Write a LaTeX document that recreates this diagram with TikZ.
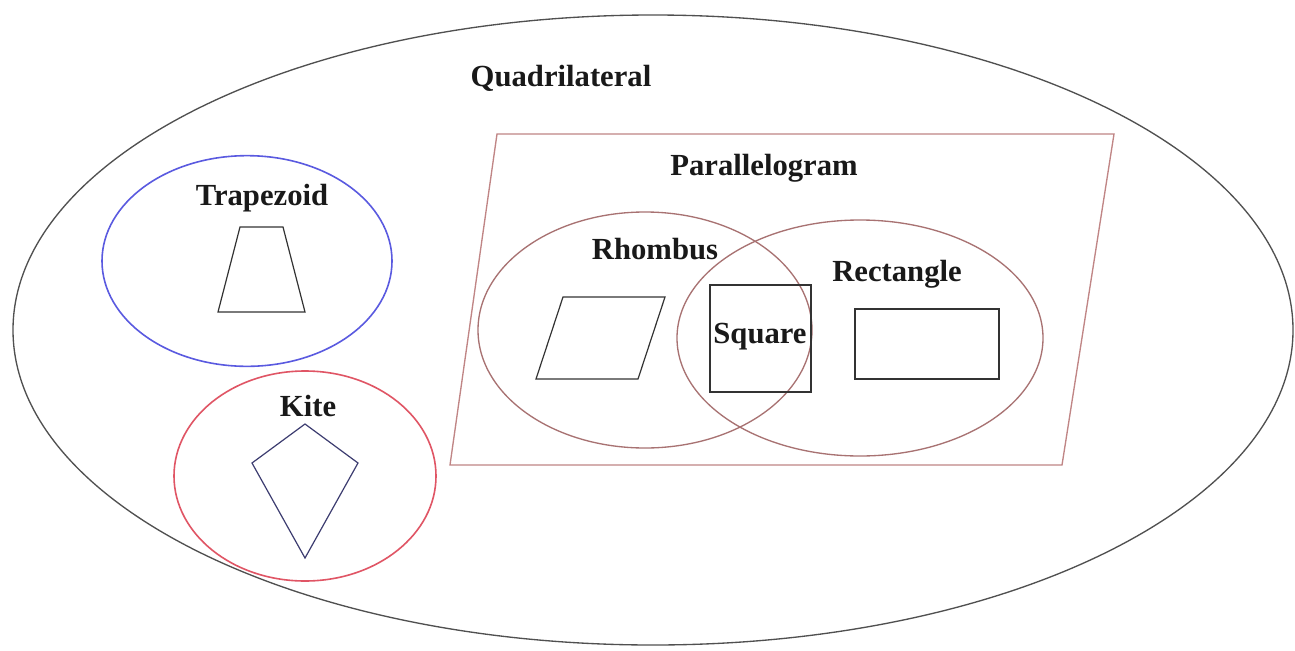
\documentclass[tikz,border=0pt]{standalone}
\usepackage{fontspec}
\setmainfont{Liberation Serif}
\begin{document}
\begin{tikzpicture}[x=0.75pt,y=-0.75pt]
\definecolor{outerc}{HTML}{505050}
\definecolor{paralc}{HTML}{C08585}
\definecolor{venn}{HTML}{A87272}
\definecolor{trapc}{HTML}{5A5AE0}
\definecolor{kitec}{HTML}{E05565}
\definecolor{kiteshape}{HTML}{3C3C70}
\tikzset{
  lbl/.style={font=\fontsize{23}{27}\selectfont\bfseries, inner sep=0pt, text=black!90},
  shapeline/.style={draw=black!80, line width=0.9pt},
}
\useasboundingbox (0,0) rectangle (1295,650);
\fill[white] (0,0) rectangle (1295,650);
% outer ellipse
\draw[outerc, line width=1pt] (653,330) ellipse [x radius=480pt, y radius=236.25pt];
% trapezoid ellipse
\draw[trapc, line width=1.2pt] (247,261) ellipse [x radius=108.75pt, y radius=79pt];
% kite ellipse
\draw[kitec, line width=1.2pt] (305,476) ellipse [x radius=98.25pt, y radius=78.75pt];
% parallelogram
\draw[paralc, line width=1pt] (497,134) -- (1114,134) -- (1062,465) -- (450,465) -- cycle;
% rhombus / rectangle ellipses
\draw[venn, line width=1pt] (645,330) ellipse [x radius=125.25pt, y radius=88.5pt];
\draw[venn, line width=1pt] (860,338) ellipse [x radius=137.25pt, y radius=88.5pt];
% shapes
\draw[shapeline] (240,227) -- (283,227) -- (305,312) -- (218,312) -- cycle;
\draw[kiteshape, line width=0.9pt] (305,424) -- (358,463) -- (305,558) -- (252,463) -- cycle;
\draw[shapeline] (563,297) -- (665,297) -- (638,379) -- (536,379) -- cycle;
\draw[draw=black!80, line width=1.3pt] (710,285) rectangle (811,392);
\draw[shapeline] (855,309) rectangle (999,379);
% labels
\node[lbl] (quad) at (561,78) {Quadrilateral};
\node[lbl] (para) at (764,168) {Parallelogram};
\node[lbl] (trap) at (262,198) {Trapezoid};
\node[lbl] (rhom) at (655,249) {Rhombus};
\node[lbl] (rect) at (897,274) {Rectangle};
\node[lbl] (squa) at (760,337) {Square};
\node[lbl] (kite) at (308,406) {Kite};
\end{tikzpicture}
\end{document}
